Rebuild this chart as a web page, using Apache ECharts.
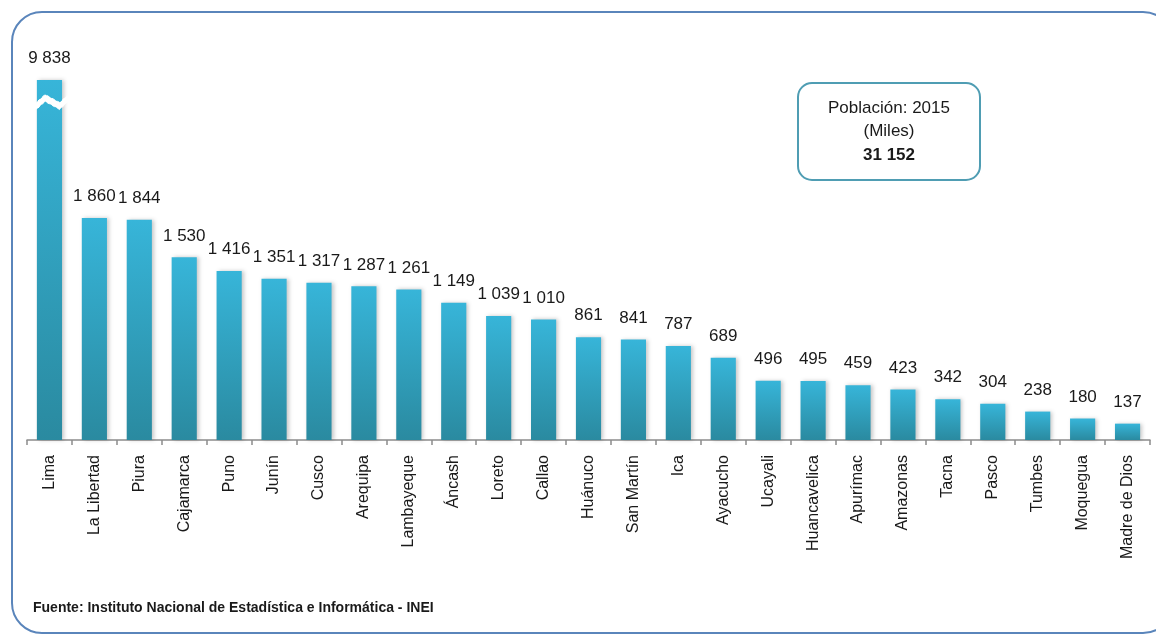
<!DOCTYPE html>
<html>
<head>
<meta charset="utf-8">
<script src="https://cdn.jsdelivr.net/npm/echarts@6/dist/echarts.min.js"></script>
<style>
  html, body { margin: 0; padding: 0; background: #ffffff; }
  #chart { width: 1156px; height: 635px; }
</style>
</head>
<body>
<div id="chart"></div>
<script>
// Población por departamento, 2015 (miles de habitantes)
const regiones = [
  'Lima', 'La Libertad', 'Piura', 'Cajamarca', 'Puno', 'Junín', 'Cusco',
  'Arequipa', 'Lambayeque', 'Áncash', 'Loreto', 'Callao', 'Huánuco',
  'San Martín', 'Ica', 'Ayacucho', 'Ucayali', 'Huancavelica', 'Apurímac',
  'Amazonas', 'Tacna', 'Pasco', 'Tumbes', 'Moquegua', 'Madre de Dios'
];
const poblacion = [
  9838, 1860, 1844, 1530, 1416, 1351, 1317,
  1287, 1261, 1149, 1039, 1010, 861,
  841, 787, 689, 496, 495, 459,
  423, 342, 304, 238, 180, 137
];
const anio = 2015;
const totalPais = 31152;
const fuente = 'Fuente: Instituto Nacional de Estadística e Informática - INEI';

// Miles separados por espacio: 9838 -> "9 838"
const fmt = v => String(v).replace(/\B(?=(\d{3})+(?!\d))/g, ' ');

const FONT = '"Liberation Sans Narrow", "Liberation Sans", Arial, sans-serif';

const chart = echarts.init(document.getElementById('chart'), null, { renderer: 'canvas' });

chart.setOption({
  backgroundColor: '#ffffff',
  animation: false,
  grid: { left: 27, right: 6, top: 80, bottom: 195, containLabel: false },
  xAxis: {
    type: 'category',
    data: regiones,
    boundaryGap: true,
    axisLine: { lineStyle: { color: '#8c8c8c', width: 1.5 } },
    axisTick: { show: true, alignWithLabel: false, length: 5, lineStyle: { color: '#8c8c8c', width: 1.5 } },
    axisLabel: {
      rotate: 90,
      interval: 0,
      margin: 15,
      color: '#1a1a1a',
      fontFamily: FONT,
      fontSize: 16
    }
  },
  yAxis: {
    type: 'value',
    min: 0,
    max: 9838,
    axisLine: { show: false },
    axisTick: { show: false },
    axisLabel: { show: false },
    splitLine: { show: false },
    // Corte del eje para la barra de Lima
    breaks: [{ start: 2800, end: 9683, gap: 60 }],
    breakArea: {
      show: true,
      expandOnClick: false,
      zigzagAmplitude: 4,
      zigzagMinSpan: 8,
      zigzagMaxSpan: 16,
      itemStyle: { color: '#ffffff', borderColor: '#ffffff', borderWidth: 1, opacity: 1 }
    }
  },
  series: [{
    type: 'bar',
    data: poblacion,
    barWidth: '56%',
    itemStyle: {
      color: new echarts.graphic.LinearGradient(0, 0, 0, 1, [
        { offset: 0, color: '#37b5d9' },
        { offset: 1, color: '#2a8aa0' }
      ]),
      shadowColor: 'rgba(0,0,0,0.22)',
      shadowBlur: 4,
      shadowOffsetX: 2,
      shadowOffsetY: 0
    },
    label: {
      show: true,
      position: 'top',
      distance: 13,
      color: '#1a1a1a',
      fontFamily: FONT,
      fontSize: 17,
      formatter: p => fmt(p.value)
    }
  }],
  graphic: [
    {
      type: 'rect',
      zlevel: 1,
      shape: { x: 12, y: 12, width: 1161, height: 621, r: 30 },
      style: { fill: 'none', stroke: '#5a85bb', lineWidth: 2 }
    },
    {
      type: 'rect',
      zlevel: 1,
      shape: { x: 798, y: 83, width: 182, height: 97, r: 14 },
      style: { fill: '#ffffff', stroke: '#4f9db3', lineWidth: 2 }
    },
    {
      type: 'text',
      zlevel: 1,
      z: 2,
      x: 889, y: 108,
      style: {
        text: 'Población: ' + anio, align: 'center', verticalAlign: 'middle',
        fill: '#1a1a1a', font: '17px ' + FONT
      }
    },
    {
      type: 'text',
      zlevel: 1,
      z: 2,
      x: 889, y: 131,
      style: {
        text: '(Miles)', align: 'center', verticalAlign: 'middle',
        fill: '#1a1a1a', font: '17px ' + FONT
      }
    },
    {
      type: 'text',
      zlevel: 1,
      z: 2,
      x: 889, y: 155,
      style: {
        text: fmt(totalPais), align: 'center', verticalAlign: 'middle',
        fill: '#1a1a1a', font: 'bold 17px ' + FONT
      }
    },
    {
      type: 'text',
      zlevel: 1,
      z: 2,
      x: 33, y: 608,
      style: {
        text: fuente, align: 'left', verticalAlign: 'middle',
        fill: '#1a1a1a', font: 'bold 14px ' + FONT
      }
    }
  ]
});
</script>
</body>
</html>
